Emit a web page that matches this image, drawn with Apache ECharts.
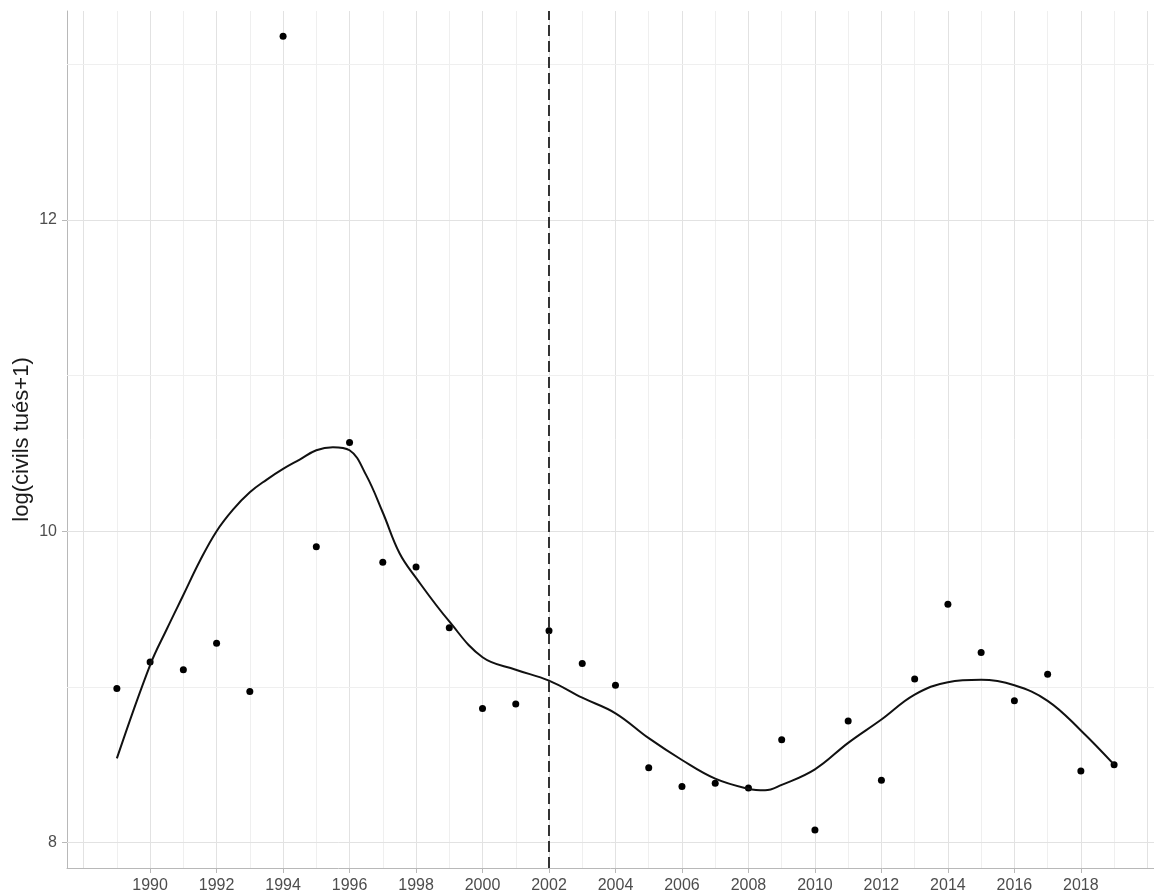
<!DOCTYPE html>
<html>
<head>
<meta charset="utf-8">
<title>log(civils tués+1)</title>
<script src="https://cdn.jsdelivr.net/npm/echarts@6/dist/echarts.min.js"></script>
<style>
  html, body { margin: 0; padding: 0; background: #fff; }
  #chart { width: 1154px; height: 893px; }
</style>
</head>
<body>
<div id="chart"></div>
<script>
  // points observés
  const years = [1989, 1990, 1991, 1992, 1993, 1994, 1995, 1996, 1997, 1998,
    1999, 2000, 2001, 2002, 2003, 2004, 2005, 2006, 2007, 2008,
    2009, 2010, 2011, 2012, 2013, 2014, 2015, 2016, 2017, 2018, 2019];
  const civils = [8.99, 9.16, 9.11, 9.28, 8.97, 13.18, 9.90, 10.57, 9.80, 9.77,
    9.38, 8.86, 8.89, 9.36, 9.15, 9.01, 8.48, 8.36, 8.38, 8.35,
    8.66, 8.08, 8.78, 8.40, 9.05, 9.53, 9.22, 8.91, 9.08, 8.46, 8.50];

  // courbe lissée
  const smoothYears = [1989, 1990, 1990.5, 1991, 1991.5, 1992, 1992.5, 1993, 1993.5, 1994,
    1994.5, 1995, 1995.5, 1996, 1996.5, 1997, 1997.5, 1998, 1999, 2000,
    2001, 2002, 2003, 2004, 2005, 2006, 2007, 2008, 2008.5, 2009,
    2010, 2011, 2012, 2013, 2014, 2015, 2016, 2017, 2018, 2019];
  const smoothValues = [8.54, 9.14, 9.37, 9.59, 9.81, 10.00, 10.14, 10.25, 10.33, 10.40,
    10.46, 10.52, 10.54, 10.52, 10.36, 10.12, 9.86, 9.70, 9.42, 9.19,
    9.11, 9.04, 8.93, 8.83, 8.67, 8.53, 8.41, 8.345, 8.335, 8.37,
    8.47, 8.64, 8.79, 8.95, 9.03, 9.045, 9.01, 8.91, 8.72, 8.50];

  // graduations
  const xTicks = [1990, 1992, 1994, 1996, 1998, 2000, 2002, 2004, 2006, 2008,
    2010, 2012, 2014, 2016, 2018];
  const xGridMajor = [1988, 1990, 1992, 1994, 1996, 1998, 2000, 2002, 2004, 2006, 2008,
    2010, 2012, 2014, 2016, 2018, 2020];
  const xGridMinor = [1989, 1991, 1993, 1995, 1997, 1999, 2001, 2003, 2005, 2007,
    2009, 2011, 2013, 2015, 2017, 2019];
  const yTicks = [8, 10, 12];
  const yGridMinor = [9, 11, 13];
  const cutYear = 2002;

  const font = 'Liberation Sans, Arial, Helvetica, sans-serif';
  const majorStyle = { color: '#e2e2e2', width: 1, type: 'solid' };
  const minorStyle = { color: '#efefef', width: 1, type: 'solid' };

  const gridLines = []
    .concat(xGridMajor.map(v => ({ xAxis: v, lineStyle: majorStyle })))
    .concat(xGridMinor.map(v => ({ xAxis: v, lineStyle: minorStyle })))
    .concat(yTicks.map(v => ({ yAxis: v, lineStyle: majorStyle })))
    .concat(yGridMinor.map(v => ({ yAxis: v, lineStyle: minorStyle })));

  const chart = echarts.init(document.getElementById('chart'));
  chart.setOption({
    animation: false,
    backgroundColor: '#fff',
    grid: { left: 67, right: 0, top: 11, bottom: 25, containLabel: false, outerBoundsMode: 'none' },
    xAxis: {
      type: 'value',
      min: 1987.5,
      max: 2020.2,
      axisLine: { show: true, lineStyle: { color: '#b8b8b8', width: 1 } },
      axisTick: { show: true, customValues: xTicks, length: 5, lineStyle: { color: '#b8b8b8' } },
      axisLabel: {
        customValues: xTicks,
        formatter: v => String(v),
        color: '#4d4d4d', fontSize: 16, fontFamily: font, margin: 10
      },
      splitLine: { show: false }
    },
    yAxis: {
      type: 'value',
      min: 7.836,
      max: 13.342,
      name: 'log(civils tués+1)',
      nameLocation: 'middle',
      nameGap: 34,
      nameMoveOverlap: false,
      nameTextStyle: { color: '#1a1a1a', fontSize: 22, fontFamily: font },
      axisLine: { show: true, lineStyle: { color: '#b8b8b8', width: 1 } },
      axisTick: { show: true, customValues: yTicks, length: 5, lineStyle: { color: '#b8b8b8' } },
      axisLabel: {
        customValues: yTicks,
        color: '#4d4d4d', fontSize: 16, fontFamily: font, margin: 10
      },
      splitLine: { show: false }
    },
    series: [
      {
        name: 'grille',
        type: 'line',
        data: [],
        silent: true,
        markLine: {
          z: 1,
          silent: true,
          symbol: 'none',
          label: { show: false },
          emphasis: { disabled: true },
          data: gridLines
        }
      },
      {
        name: 'civils',
        type: 'scatter',
        z: 3,
        symbol: 'circle',
        symbolSize: 7,
        itemStyle: { color: '#000', opacity: 1 },
        data: years.map((y, i) => [y, civils[i]])
      },
      {
        name: 'lissage',
        type: 'line',
        z: 4,
        smooth: 0.4,
        showSymbol: false,
        lineStyle: { color: '#111', width: 2 },
        data: smoothYears.map((y, i) => [y, smoothValues[i]]),
        markLine: {
          z: 5,
          silent: true,
          symbol: 'none',
          label: { show: false },
          lineStyle: { color: '#333', width: 2, type: [11, 5] },
          data: [{ xAxis: cutYear }]
        }
      }
    ]
  });
</script>
</body>
</html>
